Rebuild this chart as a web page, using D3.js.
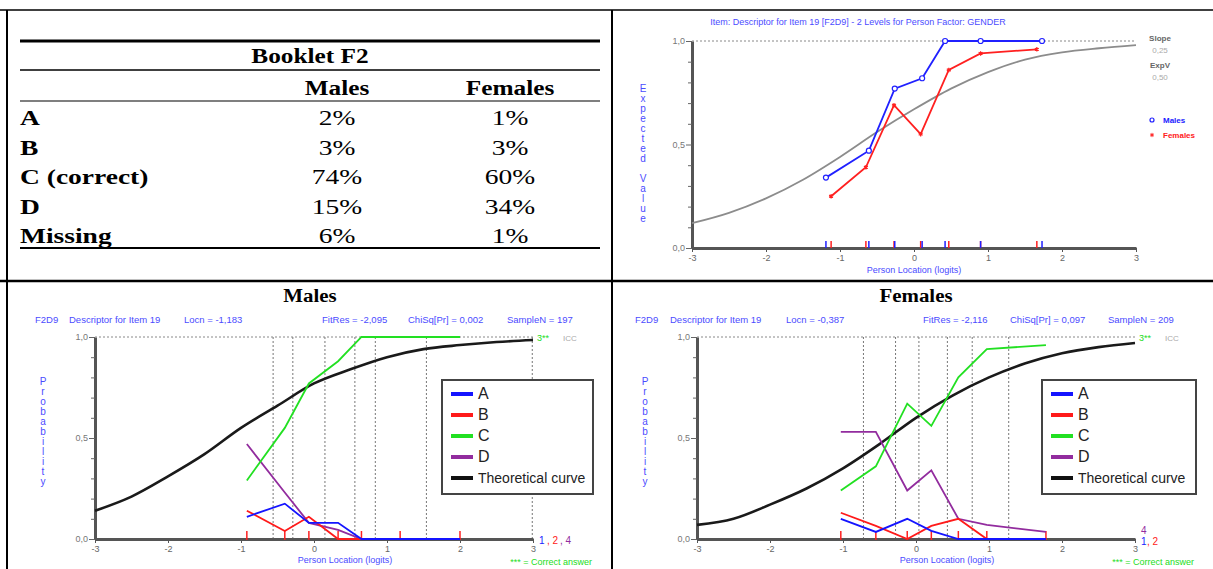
<!DOCTYPE html>
<html lang="en">
<head>
<meta charset="utf-8">
<script src="https://cdnjs.cloudflare.com/ajax/libs/d3/7.8.5/d3.min.js"></script>
<style>
  body { margin: 0; background: #fff; }
</style>
</head>
<body>
<script>
// ---- table: Booklet F2 ----
var tableRows = ["A", "B", "C (correct)", "D", "Missing"];
var tableMales = ["2%", "3%", "74%", "15%", "6%"];
var tableFemales = ["1%", "3%", "60%", "34%", "1%"];

// ---- DIF plot (top right) ----
var difMaleX = [-1.19, -0.61, -0.26, 0.11, 0.42, 0.90, 1.73];
var difMaleY = [0.34, 0.47, 0.77, 0.82, 1.0, 1.0, 1.0];
var difFemaleX = [-1.12, -0.65, -0.27, 0.09, 0.47, 0.90, 1.66];
var difFemaleY = [0.25, 0.39, 0.69, 0.55, 0.86, 0.94, 0.96];
var difIccX = [-3, -2.5, -2, -1.5, -1, -0.5, 0, 0.5, 1, 1.5, 2, 2.5, 3];
var difIccY = [0.12, 0.17, 0.24, 0.33, 0.44, 0.56, 0.67, 0.77, 0.85, 0.91, 0.945, 0.965, 0.98];

// ---- category curves, males ----
var maleClassX = [-0.92, -0.40, -0.07, 0.33, 0.65, 1.18, 2.0];
var maleA = [0.11, 0.175, 0.08, 0.08, 0, 0, 0];
var maleB = [0.14, 0.04, 0.11, 0.0, 0, 0, 0];
var maleC = [0.29, 0.55, 0.77, 0.88, 1.0, 1.0, 1.0];
var maleD = [0.47, 0.23, 0.08, 0.045, 0, 0, 0];
var maleBounds = [-0.56, -0.29, 0.15, 0.56, 0.84, 1.54, 2.99];
var maleTheoX = [-3, -2.5, -2, -1.5, -1, -0.5, 0, 0.5, 1, 1.5, 2, 2.5, 3];
var maleTheoY = [0.14, 0.21, 0.31, 0.42, 0.55, 0.66, 0.77, 0.84, 0.90, 0.94, 0.96, 0.975, 0.985];

// ---- category curves, females ----
var femaleClassX = [-1.03, -0.55, -0.12, 0.21, 0.58, 0.97, 1.78];
var femaleA = [0.10, 0.035, 0.10, 0.04, 0, 0, 0];
var femaleB = [0.13, 0.065, 0, 0.065, 0.10, 0, 0];
var femaleC = [0.24, 0.36, 0.67, 0.56, 0.80, 0.94, 0.96];
var femaleD = [0.53, 0.53, 0.24, 0.34, 0.10, 0.07, 0.035];
var femaleBounds = [-0.72, -0.28, 0.04, 0.43, 0.77, 1.27];
var femaleTheoX = [-3, -2.5, -2, -1.5, -1, -0.5, 0, 0.5, 1, 1.5, 2, 2.5, 3];
var femaleTheoY = [0.07, 0.10, 0.17, 0.25, 0.35, 0.47, 0.60, 0.71, 0.80, 0.87, 0.92, 0.95, 0.97];

// ---- axes ----
var xTicks = [-3, -2, -1, 0, 1, 2, 3];
var yLabelVals = [0, 0.5, 1];
var yLabelText = ["0,0", "0,5", "1,0"];
var legendNames = ["A", "B", "C", "D", "Theoretical curve"];
var legendColors = ["#1414ff", "#ff1a1a", "#22e022", "#922c9e", "#111"];

var W = 1213, H = 569;
var blueText = "#4b4bff";
var sans = "Arial, 'Liberation Sans', sans-serif";
var serif = "'Times New Roman', 'Liberation Serif', serif";

var svg = d3.select("body").append("svg").attr("width", W).attr("height", H);

// frame of the table cells
var frame = svg.append("g").attr("stroke", "#000");
frame.append("line").attr("x1", 0).attr("x2", W).attr("y1", 10).attr("y2", 10).attr("stroke-width", 1.5);
frame.append("line").attr("x1", 0).attr("x2", W).attr("y1", 281).attr("y2", 281).attr("stroke-width", 2.5);
frame.append("line").attr("x1", 7).attr("x2", 7).attr("y1", 10).attr("y2", H).attr("stroke-width", 2);
frame.append("line").attr("x1", 612).attr("x2", 612).attr("y1", 10).attr("y2", H).attr("stroke-width", 2);

// ---------- table ----------
function serifText(x, y, txt, bold, anchor, sx) {
    svg.append("text")
        .attr("transform", "translate(" + x + "," + y + ") scale(" + sx + ",1)")
        .attr("text-anchor", anchor)
        .attr("font-family", serif)
        .attr("font-size", 22)
        .attr("font-weight", bold ? "bold" : "normal")
        .attr("fill", "#000")
        .text(txt);
}
var rule = svg.append("g").attr("stroke", "#000");
rule.append("line").attr("x1", 20).attr("x2", 600).attr("y1", 41).attr("y2", 41).attr("stroke-width", 3);
rule.append("line").attr("x1", 20).attr("x2", 600).attr("y1", 70).attr("y2", 70).attr("stroke-width", 1.5);
rule.append("line").attr("x1", 20).attr("x2", 600).attr("y1", 101).attr("y2", 101).attr("stroke-width", 1.2);
rule.append("line").attr("x1", 20).attr("x2", 600).attr("y1", 248).attr("y2", 248).attr("stroke-width", 2);

serifText(310, 63, "Booklet F2", true, "middle", 1.15);
serifText(337, 95, "Males", true, "middle", 1.15);
serifText(510, 95, "Females", true, "middle", 1.15);
var rowY = d3.scalePoint().domain(tableRows).range([125, 243]);
tableRows.forEach(function (r, i) {
    serifText(20, rowY(r), r, true, "start", 1.25);
    serifText(337, rowY(r), tableMales[i], false, "middle", 1.25);
    serifText(510, rowY(r), tableFemales[i], false, "middle", 1.25);
});

// ---------- shared helpers ----------
function stacked(g, x, y0, step, word, color) {
    word.split("").forEach(function (ch, i) {
        g.append("text").attr("x", x).attr("y", y0 + i * step)
            .attr("text-anchor", "middle").attr("font-family", sans)
            .attr("font-size", 10).attr("fill", color).text(ch);
    });
}

function drawAxes(g, x, y) {
    var ya = g.append("g").attr("transform", "translate(" + x.range()[0] + ",0)")
        .call(d3.axisLeft(y)
            .tickValues(d3.range(11).map(function (i) { return i / 10; }))
            .tickSize(4).tickSizeOuter(0).tickPadding(3)
            .tickFormat(function (d) {
                var i = yLabelVals.findIndex(function (v) { return Math.abs(v - d) < 1e-6; });
                return i < 0 ? "" : yLabelText[i];
            }));
    ya.select(".domain").attr("stroke", "#555").attr("stroke-width", 3);
    ya.selectAll(".tick line").attr("stroke", "#666");
    ya.selectAll(".tick text").attr("fill", "#777").attr("font-size", 9).attr("font-family", sans);
    ya.selectAll(".tick").filter(function (d) { return yLabelVals.some(function (v) { return Math.abs(v - d) < 1e-6; }); })
        .select("line").attr("x2", -6);

    var xa = g.append("g").attr("transform", "translate(0," + y.range()[0] + ")")
        .call(d3.axisBottom(x).tickValues(xTicks).tickSize(4).tickSizeOuter(0).tickPadding(3)
            .tickFormat(function (d) { return String(d); }));
    xa.select(".domain").attr("stroke", "#555").attr("stroke-width", 3);
    xa.selectAll(".tick line").attr("stroke", "#555");
    xa.selectAll(".tick text").attr("fill", "#666").attr("font-size", 9).attr("font-family", sans);

    // dotted line at 1.0
    g.append("line").attr("x1", x(-3)).attr("x2", x(3)).attr("y1", y(1)).attr("y2", y(1))
        .attr("stroke", "#888").attr("stroke-width", 1).attr("stroke-dasharray", "2,2");
}

function pathOf(xs, ys, x, y, curve) {
    var line = d3.line().x(function (d) { return x(d[0]); }).y(function (d) { return y(d[1]); });
    if (curve) line.curve(curve);
    return line(d3.zip(xs, ys));
}

// ---------- DIF plot ----------
(function () {
    var g = svg.append("g");
    var x = d3.scaleLinear().domain([-3, 3]).range([692, 1136]);
    var y = d3.scaleLinear().domain([0, 1]).range([248, 41]);

    g.append("text").attr("x", 858).attr("y", 25).attr("text-anchor", "middle")
        .attr("font-family", sans).attr("font-size", 9).attr("fill", blueText)
        .text("Item: Descriptor for Item 19 [F2D9] - 2 Levels for Person Factor: GENDER");

    drawAxes(g, x, y);
    stacked(g, 643, 92, 10, "Expected Value", blueText);
    g.append("text").attr("x", 914).attr("y", 273).attr("text-anchor", "middle")
        .attr("font-family", sans).attr("font-size", 9).attr("fill", blueText)
        .text("Person Location (logits)");

    g.append("path").attr("d", pathOf(difIccX, difIccY, x, y, d3.curveMonotoneX))
        .attr("fill", "none").attr("stroke", "#8c8c8c").attr("stroke-width", 1.8);

    // rug ticks
    difFemaleX.forEach(function (v) {
        g.append("line").attr("x1", x(v)).attr("x2", x(v)).attr("y1", y(0) - 7).attr("y2", y(0))
            .attr("stroke", "#ff2020").attr("stroke-width", 1.5);
    });
    difMaleX.forEach(function (v) {
        g.append("line").attr("x1", x(v)).attr("x2", x(v)).attr("y1", y(0) - 7).attr("y2", y(0))
            .attr("stroke", "#2020ff").attr("stroke-width", 1.5);
    });

    g.append("path").attr("d", pathOf(difFemaleX, difFemaleY, x, y))
        .attr("fill", "none").attr("stroke", "#ff2020").attr("stroke-width", 1.8);
    g.selectAll(".fpt").data(d3.zip(difFemaleX, difFemaleY)).enter().append("path")
        .attr("transform", function (d) { return "translate(" + x(d[0]) + "," + y(d[1]) + ")"; })
        .attr("d", d3.symbol(d3.symbolAsterisk, 14))
        .attr("stroke", "#ff2020").attr("stroke-width", 1.2).attr("fill", "none");

    g.append("path").attr("d", pathOf(difMaleX, difMaleY, x, y))
        .attr("fill", "none").attr("stroke", "#2020ff").attr("stroke-width", 1.8);
    g.selectAll(".mpt").data(d3.zip(difMaleX, difMaleY)).enter().append("circle")
        .attr("cx", function (d) { return x(d[0]); }).attr("cy", function (d) { return y(d[1]); })
        .attr("r", 2.5).attr("fill", "#fff").attr("stroke", "#2020ff").attr("stroke-width", 1.2);

    // side notes
    var side = g.append("g").attr("font-family", sans).attr("font-size", 8);
    side.append("text").attr("x", 1160).attr("y", 41).attr("text-anchor", "middle").attr("fill", "#666").attr("font-weight", "bold").text("Slope");
    side.append("text").attr("x", 1160).attr("y", 53).attr("text-anchor", "middle").attr("fill", "#aaa").text("0,25");
    side.append("text").attr("x", 1160).attr("y", 68).attr("text-anchor", "middle").attr("fill", "#666").attr("font-weight", "bold").text("ExpV");
    side.append("text").attr("x", 1160).attr("y", 80).attr("text-anchor", "middle").attr("fill", "#aaa").text("0,50");

    side.append("circle").attr("cx", 1152).attr("cy", 120).attr("r", 2).attr("fill", "none").attr("stroke", "#2020ff").attr("stroke-width", 1.2);
    side.append("text").attr("x", 1163).attr("y", 123).attr("fill", "#2020ff").attr("font-weight", "bold").text("Males");
    side.append("path").attr("transform", "translate(1152,135)").attr("d", d3.symbol(d3.symbolAsterisk, 12))
        .attr("stroke", "#ff2020").attr("fill", "none");
    side.append("text").attr("x", 1163).attr("y", 138).attr("fill", "#ff2020").attr("font-weight", "bold").text("Females");
})();

// ---------- category probability plots ----------
function drawIcc(o) {
    var g = svg.append("g");
    var x = d3.scaleLinear().domain([-3, 3]).range([o.x0, o.x0 + 438]);
    var y = d3.scaleLinear().domain([0, 1]).range([539, 337]);

    g.append("text").attr("transform", "translate(" + o.titleX + ",302) scale(1.1,1)")
        .attr("text-anchor", "middle").attr("font-family", serif).attr("font-size", 19)
        .attr("font-weight", "bold").text(o.title);

    var hdr = g.append("g").attr("font-family", sans).attr("font-size", 9.5).attr("fill", blueText);
    o.header.forEach(function (h) {
        hdr.append("text").attr("x", o.x0 + h[0]).attr("y", 323).text(h[1]);
    });

    // class interval boundaries
    o.bounds.forEach(function (b) {
        g.append("line").attr("x1", x(b)).attr("x2", x(b)).attr("y1", y(1)).attr("y2", y(0))
            .attr("stroke", "#777").attr("stroke-width", 1).attr("stroke-dasharray", "2,2");
    });

    drawAxes(g, x, y);
    stacked(g, o.x0 - 52, 385, 10, "Probability", blueText);
    g.append("text").attr("x", o.x0 + 250).attr("y", 563).attr("text-anchor", "middle")
        .attr("font-family", sans).attr("font-size", 9).attr("fill", blueText)
        .text("Person Location (logits)");
    g.append("text").attr("x", o.x0 + 497).attr("y", 565).attr("text-anchor", "end")
        .attr("font-family", sans).attr("font-size", 9).attr("fill", "#22dd22")
        .text("*** = Correct answer");
    g.append("text").attr("x", o.x0 + 442).attr("y", 341)
        .attr("font-family", sans).attr("font-size", 9).attr("fill", "#22dd22").text("3**");
    g.append("text").attr("x", o.x0 + 468).attr("y", 341)
        .attr("font-family", sans).attr("font-size", 8).attr("fill", "#aaa").text("ICC");

    var keys = g.append("g").attr("font-family", sans).attr("font-size", 10);
    o.keys.forEach(function (k) {
        keys.append("text").attr("x", o.x0 + k[0]).attr("y", k[1]).attr("fill", k[3]).text(k[2]);
    });

    // rug of class means
    o.classX.forEach(function (v) {
        g.append("line").attr("x1", x(v)).attr("x2", x(v)).attr("y1", y(0) - 8).attr("y2", y(0) + 1)
            .attr("stroke", "#ff2020").attr("stroke-width", 1.5);
    });

    g.append("path").attr("d", pathOf(o.theoX, o.theoY, x, y, d3.curveMonotoneX))
        .attr("fill", "none").attr("stroke", "#1a1a1a").attr("stroke-width", 2.6);

    [o.D, o.C, o.B, o.A].forEach(function (ys, i) {
        g.append("path").attr("d", pathOf(o.classX, ys, x, y))
            .attr("fill", "none").attr("stroke", legendColors[3 - i]).attr("stroke-width", 1.8);
    });

    // legend
    var lg = g.append("g").attr("transform", "translate(" + (o.x0 + o.legendDx) + ",380)");
    lg.append("rect").attr("width", o.legendW).attr("height", 114)
        .attr("fill", "#fff").attr("stroke", "#444").attr("stroke-width", 2);
    legendNames.forEach(function (n, i) {
        var yy = 14 + i * 21;
        lg.append("line").attr("x1", 9).attr("x2", 31).attr("y1", yy).attr("y2", yy)
            .attr("stroke", legendColors[i]).attr("stroke-width", 4);
        lg.append("text").attr("x", 36).attr("y", yy + 5).attr("font-family", sans)
            .attr("font-size", i < 4 ? 16 : 14).attr("fill", "#222").text(n);
    });
}

drawIcc({
    x0: 95, title: "Males", titleX: 310,
    header: [[-60, "F2D9"], [-26, "Descriptor for Item 19"], [89, "Locn = -1,183"],
             [227, "FitRes = -2,095"], [313, "ChiSq[Pr] = 0,002"], [412, "SampleN = 197"]],
    classX: maleClassX, A: maleA, B: maleB, C: maleC, D: maleD,
    bounds: maleBounds, theoX: maleTheoX, theoY: maleTheoY,
    legendDx: 347, legendW: 151,
    keys: [[444, 544, "1", "#2020ff"], [452, 544, ", 2", "#ff2020"], [465, 544, ", 4", "#922c9e"]]
});

drawIcc({
    x0: 697, title: "Females", titleX: 916,
    header: [[-62, "F2D9"], [-27, "Descriptor for Item 19"], [89, "Locn = -0,387"],
             [226, "FitRes = -2,116"], [313, "ChiSq[Pr] = 0,097"], [411, "SampleN = 209"]],
    classX: femaleClassX, A: femaleA, B: femaleB, C: femaleC, D: femaleD,
    bounds: femaleBounds, theoX: femaleTheoX, theoY: femaleTheoY,
    legendDx: 345, legendW: 154,
    keys: [[444, 534, "4", "#922c9e"], [444, 545, "1", "#2020ff"], [450, 545, ", 2", "#ff2020"]]
});
</script>
</body>
</html>
